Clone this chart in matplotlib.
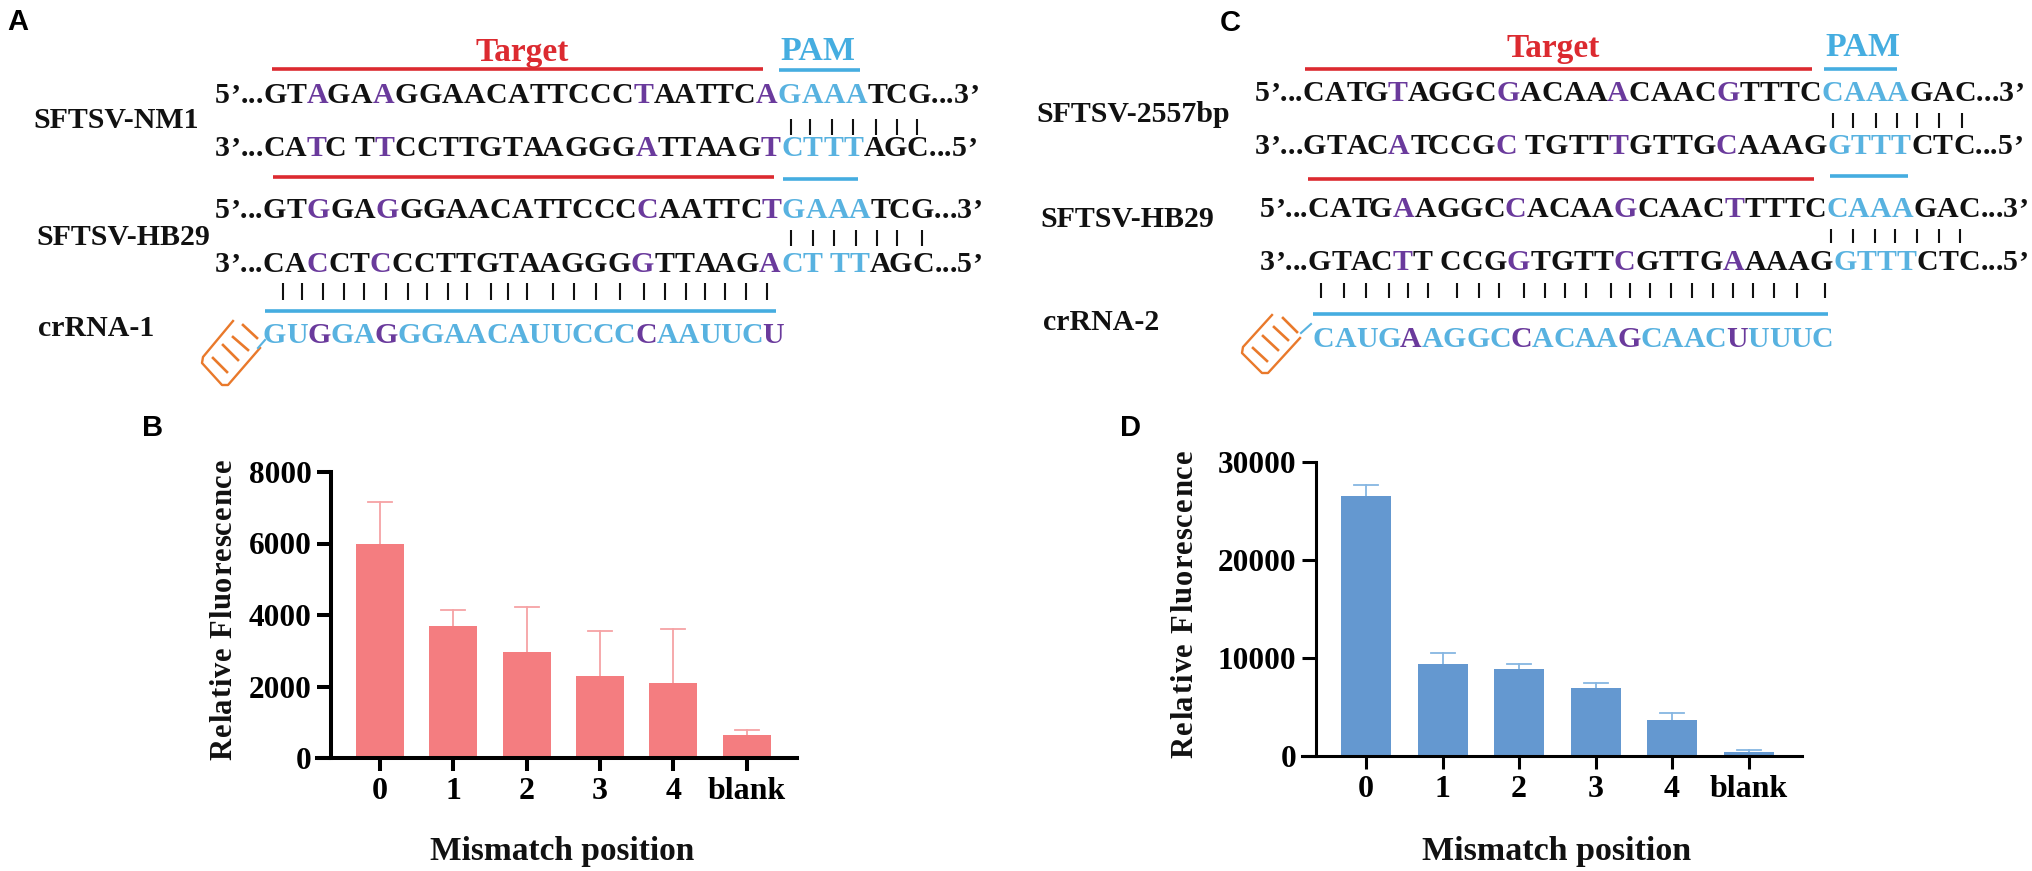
import matplotlib
matplotlib.use('Agg')
import matplotlib.pyplot as plt

W, H = 2033, 871
BLACK = '#111111'
RED = '#dc2a30'
BLUE = '#45ade0'
RNA = '#58b2e0'
PURPLE = '#6a3a9c'
ORANGE = '#e9792b'

plt.rcParams['font.family'] = ['Liberation Serif']
plt.rcParams['font.weight'] = 'bold'

# bar data
positions = ['0', '1', '2', '3', '4', 'blank']
b_values = [6000, 3700, 2970, 2300, 2100, 650]
b_tops = [7150, 4130, 4220, 3540, 3620, 790]
d_values = [26500, 9400, 8920, 6910, 3680, 440]
d_tops = [27680, 10560, 9400, 7420, 4430, 580]

# sequences: k black, p purple, b blue
a_line1 = [('5’...GT', 'k'), ('A', 'p'), ('GA', 'k'), ('A', 'p'), ('GGAACATTCCC', 'k'), ('T', 'p'), ('AATTC', 'k'), ('A', 'p'), ('GAAA', 'b'), ('TCG...3’', 'k')]
a_line2 = [('3’...CA', 'k'), ('T', 'p'), ('C T', 'k'), ('T', 'p'), ('CCTTGTAAGGG', 'k'), ('A', 'p'), ('TTAAG', 'k'), ('T', 'p'), ('CTTT', 'b'), ('AGC...5’', 'k')]
a_line3 = [('5’...GT', 'k'), ('G', 'p'), ('GA', 'k'), ('G', 'p'), ('GGAACATTCCC', 'k'), ('C', 'p'), ('AATTC', 'k'), ('T', 'p'), ('GAAA', 'b'), ('TCG...3’', 'k')]
a_line4 = [('3’...CA', 'k'), ('C', 'p'), ('CT', 'k'), ('C', 'p'), ('CCTTGTAAGGG', 'k'), ('G', 'p'), ('TTAAG', 'k'), ('A', 'p'), ('CT TT', 'b'), ('AGC...5’', 'k')]
a_rna = [('GU', 'b'), ('G', 'p'), ('GA', 'b'), ('G', 'p'), ('GGAACAUUCCC', 'b'), ('C', 'p'), ('AAUUC', 'b'), ('U', 'p')]
c_line1 = [('5’...CATG', 'k'), ('T', 'p'), ('AGGC', 'k'), ('G', 'p'), ('ACAA', 'k'), ('A', 'p'), ('CAAC', 'k'), ('G', 'p'), ('TTTC', 'k'), ('CAAA', 'b'), ('GAC...3’', 'k')]
c_line2 = [('3’...GTAC', 'k'), ('A', 'p'), ('TCCG', 'k'), ('C', 'p'), (' TGTT', 'k'), ('T', 'p'), ('GTTG', 'k'), ('C', 'p'), ('AAAG', 'k'), ('GTTT', 'b'), ('CTC...5’', 'k')]
c_line3 = [('5’...CATG', 'k'), ('A', 'p'), ('AGGC', 'k'), ('C', 'p'), ('ACAA', 'k'), ('G', 'p'), ('CAAC', 'k'), ('T', 'p'), ('TTTC', 'k'), ('CAAA', 'b'), ('GAC...3’', 'k')]
c_line4 = [('3’...GTAC', 'k'), ('T', 'p'), ('T CCG', 'k'), ('G', 'p'), ('TGTT', 'k'), ('C', 'p'), ('GTTG', 'k'), ('A', 'p'), ('AAAG', 'k'), ('GTTT', 'b'), ('CTC...5’', 'k')]
c_rna = [('CAUG', 'b'), ('A', 'p'), ('AGGC', 'b'), ('C', 'p'), ('ACAA', 'b'), ('G', 'p'), ('CAAC', 'b'), ('U', 'p'), ('UUUC', 'b')]

colors = {'k': BLACK, 'p': PURPLE, 'b': RNA}

fig = plt.figure(figsize=(W / 100, H / 100), dpi=100)
bg = fig.add_axes([0, 0, 1, 1])
bg.set_xlim(0, W)
bg.set_ylim(H, 0)
bg.axis('off')
rend = fig.canvas.get_renderer()


def prefix_width(s, size):
    t = bg.text(0, 0, s + 'x', fontsize=size, weight='bold')
    w = t.get_window_extent(rend).width
    t.set_text('x')
    w -= t.get_window_extent(rend).width
    t.remove()
    return w


def seq_text(runs, x0, x1, y, size=21.5):
    # put letters one by one so the line ends up as wide as in the figure
    chars = [(c, k) for run, k in runs for c in run]
    stretch = (x1 - x0) / prefix_width(''.join(c for c, k in chars), size)
    full = ''
    for c, k in chars:
        if c != ' ':
            bg.text(x0 + prefix_width(full, size) * stretch, y, c, fontsize=size, weight='bold',
                    color=colors[k], ha='left', va='baseline')
        full += c


def vert_text(s, x, y0, y1, size):
    # y label is letterspaced in the figure, y0 is the bottom end
    stretch = (y0 - y1) / prefix_width(s, size)
    for i, c in enumerate(s):
        if c != ' ':
            bg.text(x, y0 - prefix_width(s[:i], size) * stretch, c, fontsize=size, weight='bold', color=BLACK,
                    rotation=90, rotation_mode='anchor', ha='left', va='baseline')


def hline(x0, x1, y, color, lw=2.6):
    bg.plot([x0, x1], [y, y], color=color, lw=lw, solid_capstyle='butt')


def pipes(xs, y0, y1):
    for x in xs:
        bg.plot([x, x], [y0, y1], color=BLACK, lw=1.5, solid_capstyle='butt')


def grip(outline, teeth, link):
    bg.plot(*zip(*outline), color=ORANGE, lw=1.7, solid_joinstyle='round')
    for a, b in teeth:
        bg.plot([a[0], b[0]], [a[1], b[1]], color=ORANGE, lw=1.9)
    bg.plot(*zip(*link), color=RNA, lw=1.5)


def panel_letter(s, x, y):
    bg.text(x, y, s, fontsize=21, family='Liberation Sans', weight='bold', color='black', ha='left', va='center')


def side_label(s, x, y):
    bg.text(x, y, s, fontsize=21.5, weight='bold', color=BLACK, ha='left', va='center')


# panel A
panel_letter('A', 7, 22)
bg.text(522, 52, 'Target', fontsize=24, weight='bold', color=RED, ha='center', va='center')
bg.text(818, 51, 'PAM', fontsize=24.5, weight='bold', color=BLUE, ha='center', va='center')
hline(272, 763, 69.5, RED)
hline(779, 860, 70, BLUE)
seq_text(a_line1, 215, 979, 103)
pipes([791, 810, 832, 853, 876, 897, 917], 119, 135)
seq_text(a_line2, 215, 977, 156)
hline(273, 774, 177, RED)
hline(783, 858, 179, BLUE)
seq_text(a_line3, 215, 982, 218)
pipes([791, 813, 834, 856, 877, 897, 922], 230, 246)
seq_text(a_line4, 215, 982, 272)
pipes([283, 302, 323, 344, 364, 386, 408, 427, 448, 467, 491, 508, 527, 553, 574, 596, 620, 644, 665, 686, 705, 725, 746, 767], 283, 300)
hline(265, 776, 311, BLUE)
seq_text(a_rna, 263, 784, 343)
side_label('SFTSV-NM1', 33, 121)
side_label('SFTSV-HB29', 36, 237)
side_label('crRNA-1', 38, 328)
grip([(233, 321), (203, 357), (202, 363), (222, 385), (228, 385), (260, 348)],
     [((213, 358), (227, 372)), ((223, 345), (238, 360)), ((233, 337), (248, 350)), ((243, 325), (257, 338))],
     [(258, 348), (265, 340)])

# panel C
panel_letter('C', 1220, 23)
bg.text(1553, 48, 'Target', fontsize=24, weight='bold', color=RED, ha='center', va='center')
bg.text(1863, 47, 'PAM', fontsize=24.5, weight='bold', color=BLUE, ha='center', va='center')
hline(1305, 1812, 69.5, RED)
hline(1824, 1897, 69.5, BLUE)
seq_text(c_line1, 1255, 2024, 101)
pipes([1833, 1853, 1876, 1897, 1917, 1939, 1962], 113, 128)
seq_text(c_line2, 1255, 2023, 154)
hline(1308, 1814, 179, RED)
hline(1830, 1908, 176, BLUE)
seq_text(c_line3, 1260, 2028, 217)
pipes([1831, 1853, 1875, 1895, 1917, 1939, 1960], 229, 243)
seq_text(c_line4, 1260, 2028, 270)
pipes([1321, 1344, 1366, 1389, 1408, 1428, 1457, 1479, 1499, 1524, 1545, 1565, 1586, 1611, 1630, 1650, 1671, 1692, 1713, 1733, 1753, 1774, 1797, 1825], 283, 298)
hline(1313, 1828, 314, BLUE)
seq_text(c_rna, 1313, 1833, 347)
side_label('SFTSV-2557bp', 1036, 115)
side_label('SFTSV-HB29', 1040, 219)
side_label('crRNA-2', 1043, 322)
grip([(1272, 315), (1243, 347), (1242, 353), (1262, 373), (1268, 373), (1300, 338)],
     [((1253, 348), (1267, 361)), ((1263, 336), (1278, 350)), ((1274, 327), (1288, 340)), ((1283, 318), (1297, 332))],
     [(1301, 333), (1311, 324)])


def bar_panel(box, values, tops, color, err_color, ymax, yticks, x0, spacing, width, lw, xright):
    # box is left, top, right, bottom in pixels
    left, top, right, bottom = box
    ax = fig.add_axes([left / W, 1 - bottom / H, (right - left) / W, (bottom - top) / H])
    ax.patch.set_alpha(0)
    xs = [(x0 + i * spacing - left) / spacing for i in range(len(values))]
    ax.bar(xs, values, width=width / spacing, color=color, zorder=2)
    for x, v, t in zip(xs, values, tops):
        ax.plot([x, x], [v, t], color=err_color, lw=1.3, zorder=1)
        ax.plot([x - 12 / spacing, x + 12 / spacing], [t, t], color=err_color, lw=1.3, zorder=1)
    ax.set_xlim(0, (right - left) / spacing)
    ax.set_ylim(0, ymax)
    ax.set_xticks(xs)
    ax.set_xticklabels(positions)
    ax.set_yticks(yticks)
    for s in ['top', 'right']:
        ax.spines[s].set_visible(False)
    for s in ['left', 'bottom']:
        ax.spines[s].set_linewidth(lw)
        ax.spines[s].set_color('black')
    ax.spines['bottom'].set_bounds(-14 / spacing, (xright - left) / spacing)
    ax.spines['bottom'].set_zorder(5)
    ax.tick_params(axis='y', length=10, width=lw, labelsize=22.5, pad=4)
    ax.tick_params(axis='x', length=9, width=lw, labelsize=23, pad=5)
    return ax


ax_b = bar_panel((331, 472, 800, 758), b_values, b_tops, '#f47d80', '#f6a3a5', 8000, [0, 2000, 4000, 6000, 8000],
                 380, 73.3, 48, 2.9, 797)
ax_d = bar_panel((1316, 462, 1810, 756), d_values, d_tops, '#6498d0', '#86b6e2', 30000, [0, 10000, 20000, 30000],
                 1366, 76.5, 50, 2.2, 1802)

panel_letter('B', 142, 428)
panel_letter('D', 1120, 428)
vert_text('Relative Fluorescence', 231, 760, 458, 22)
vert_text('Relative Fluorescence', 1192, 758, 448, 22)
bg.text(562, 851, 'Mismatch position', fontsize=24, weight='bold', color=BLACK, ha='center', va='center')
bg.text(1557, 851, 'Mismatch position', fontsize=24.5, weight='bold', color=BLACK, ha='center', va='center')

fig.savefig('out.png', dpi=100)
